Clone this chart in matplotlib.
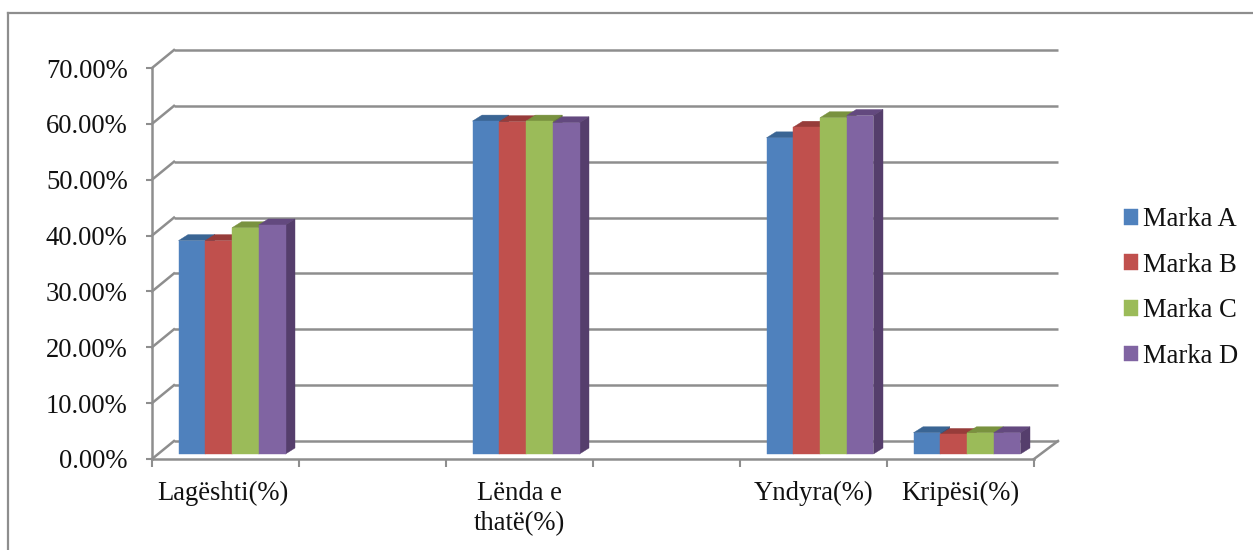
import matplotlib
matplotlib.use("Agg")
import matplotlib.pyplot as plt
from matplotlib.lines import Line2D
from matplotlib.patches import Polygon
from matplotlib.transforms import Affine2D

categories = ["Lagështi(%)", "", "Lënda e\nthatë(%)", "", "Yndyra(%)", "Kripësi(%)"]
brands = ["Marka A", "Marka B", "Marka C", "Marka D"]
marka_a = [38.2, 0, 59.6, 0, 56.6, 3.8]
marka_b = [38.2, 0, 59.5, 0, 58.5, 3.5]
marka_c = [40.5, 0, 59.6, 0, 60.2, 3.8]
marka_d = [41.0, 0, 59.3, 0, 60.6, 3.8]
series = [marka_a, marka_b, marka_c, marka_d]
yticks = [0, 10, 20, 30, 40, 50, 60, 70]

front = ["#4f81bd", "#c0504d", "#9bbb59", "#8064a2"]
top = ["#3a6594", "#973c3a", "#79923f", "#63497f"]
side = ["#34567f", "#823230", "#677d38", "#553e6c"]
GREY = "#8e8e8e"
W, H = 1253, 550

plt.rcParams["font.family"] = ["Liberation Serif", "DejaVu Serif"]
fig = plt.figure(figsize=(W / 100, H / 100), dpi=100)
L, R, B, T = 152, 1034, 459, 68
ax = fig.add_axes([L / W, 1 - B / H, (R - L) / W, (B - T) / H])
ax.set_xlim(0, 6)
ax.set_ylim(0, 70)
ax.patch.set_visible(False)

# Pixel offsets for the pseudo-3D depth
wall = Affine2D().translate(22, 18)
floor_shift = Affine2D().translate(0, 5)
px_x = 6 / (R - L)
px_y = 70 / (B - T)
dx, dy = 9.5 * px_x, 6 * px_y

for v in yticks:
    ax.plot([0, 6 + 2 * px_x], [v, v], transform=ax.transData + wall, color=GREY, lw=1.8,
            clip_on=False, zorder=1, solid_capstyle="butt")
    ax.plot([0, 22 * px_x], [v, v + 18 * px_y], color=GREY, lw=1.8,
            clip_on=False, zorder=1)
ax.plot([6, 6 + 24 * px_x], [0, 18 * px_y], color=GREY, lw=1.8, clip_on=False, zorder=1)

bar_w = 26.75 * px_x
centers = [i + 0.5 + 6.5 * px_x for i in range(6)]
bar_tr = ax.transData + floor_shift
for j, vals in enumerate(series):
    pts = [(c + (j - 1.5) * bar_w, v) for c, v in zip(centers, vals) if v > 0]
    xs = [p[0] for p in pts]
    vs = [p[1] for p in pts]
    ax.bar(xs, vs, bar_w, color=front[j], edgecolor=front[j], transform=bar_tr, clip_on=False,
           zorder=3 + 0.1 * j, label=brands[j], linewidth=0.3)
    for x, v in pts:
        x0, x1 = x - bar_w / 2, x + bar_w / 2
        ax.add_patch(Polygon([(x0, v), (x1, v), (x1 + dx, v + dy), (x0 + dx, v + dy)],
                             facecolor=top[j], edgecolor=top[j], lw=0.3, transform=bar_tr,
                             clip_on=False, zorder=2.9 + 0.1 * j))
        ax.add_patch(Polygon([(x1, 0), (x1, v), (x1 + dx, v + dy), (x1 + dx, dy)],
                             facecolor=side[j], edgecolor=side[j], lw=0.3, transform=bar_tr,
                             clip_on=False, zorder=2.9 + 0.1 * j))

for s in ("top", "right"):
    ax.spines[s].set_visible(False)
for s in ("left", "bottom"):
    ax.spines[s].set_color(GREY)
    ax.spines[s].set_linewidth(1.8)
    ax.spines[s].set_zorder(2)

fmt_size = 19.2
ax.set_yticks(yticks)
ax.set_yticklabels([f"{v:.2f}%" for v in yticks], fontsize=fmt_size, color="#111111")
ax.tick_params(axis="y", length=4.5, width=1.5, color=GREY, pad=13)
ax.set_xticks(range(7))
ax.set_xticklabels([""] * 7)
ax.tick_params(axis="x", which="major", length=5.5, width=1.5, color=GREY)
ax.set_xticks([i + 0.5 for i in range(6)], minor=True)
ax.set_xticklabels(categories, minor=True, fontsize=fmt_size, color="#111111", linespacing=1.3)
ax.tick_params(axis="x", which="minor", length=0, pad=15.5)
first = ax.get_xticklabels(minor=True)[0]
first.set_transform(first.get_transform() + Affine2D().translate(-3, 0))

leg = fig.legend(*[h[:4] for h in ax.get_legend_handles_labels()],
                 loc="center left", bbox_to_anchor=(1116 / W, 1 - 288 / H), frameon=False,
                 fontsize=fmt_size, handlelength=0.525, handleheight=0.525, handletextpad=0.19,
                 labelspacing=0.77, borderpad=0.3, borderaxespad=0, labelcolor="#111111")

# Outer chart frame
fig.add_artist(Line2D([8 / W, 8 / W], [0, 1 - 13 / H], color=GREY, lw=1.6))
fig.add_artist(Line2D([8 / W, 1], [1 - 13 / H, 1 - 13 / H], color=GREY, lw=1.6))

fig.savefig("out.png", dpi=100)
